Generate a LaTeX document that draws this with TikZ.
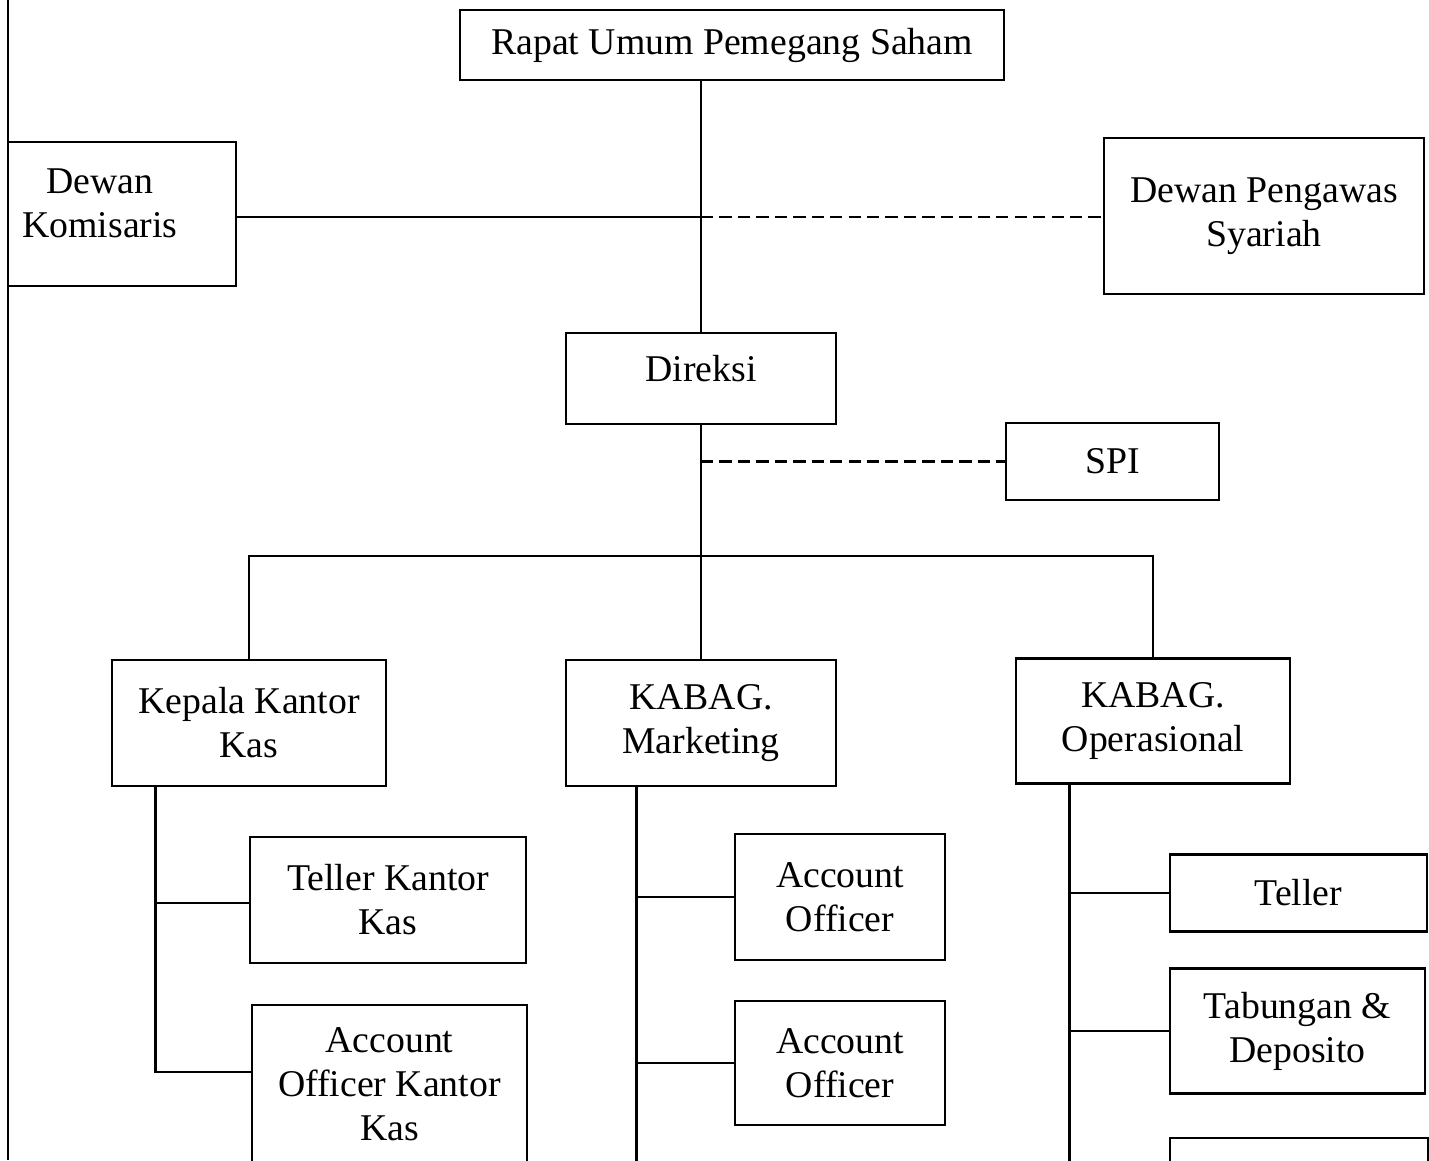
\documentclass[tikz,border=0pt]{standalone}
\usepackage{fontspec}
\setmainfont{Liberation Serif}
\begin{document}
\begin{tikzpicture}[x=0.02cm,y=-0.02cm,
	unit/.style={draw,line width=1.5pt,align=center,inner sep=0pt,
		font=\fontsize{21.5}{25}\selectfont},
	link/.style={line width=1.5pt},
	guide/.style={line width=1.5pt,dash pattern=on 7pt off 3.5pt}]
	\useasboundingbox (0,0) rectangle (1429,1160);
	\clip (0,0) rectangle (1429,1160);
	
	\node[unit,minimum width=10.88cm,minimum height=1.4cm] (rups) at 
	(732,45) {Rapat Umum Pemegang Saham};
	\node[unit,minimum width=4.56cm,minimum height=2.88cm,
	label={[shift={(-0.44cm,0.22cm)},align=center,
		font=\fontsize{21.5}{25}\selectfont]center:Dewan\\Komisaris}] 
	(komisaris) at (122,214) {};
	\node[unit,minimum width=6.4cm,minimum height=3.12cm] (dps) at 
	(1264,216) {Dewan Pengawas\\Syariah};
	\node[unit,minimum width=5.4cm,minimum height=1.82cm,
	label={[yshift=0.2cm,font=\fontsize{21.5}{25}\selectfont]center:Direksi}] 
	(direksi) at (701,378.5) {};
	\node[unit,minimum width=4.26cm,minimum height=1.54cm] (spi) at 
	(1112.5,461.5) {SPI};
	
	\node[unit,minimum width=5.48cm,minimum height=2.52cm] (kantorkas) at 
	(249,723) {Kepala Kantor\\Kas};
	\node[unit,minimum width=5.4cm,minimum height=2.52cm] (marketing) at 
	(701,723) {KABAG.\\Marketing};
	\node[unit,minimum width=5.48cm,minimum height=2.5cm] (operasional) at 
	(1153,721) {KABAG.\\Operasional};
	
	\node[unit,minimum width=5.52cm,minimum height=2.52cm] (tellerkk) at 
	(388,900) {Teller Kantor\\Kas};
	\node[unit,minimum width=5.5cm,minimum height=3.16cm] (aokk) at 
	(389.5,1084) {Account\\Officer Kantor\\Kas};
	\node[unit,minimum width=4.2cm,minimum height=2.52cm] (aoa) at 
	(840,897) {Account\\Officer};
	\node[unit,minimum width=4.2cm,minimum height=2.48cm] (aob) at 
	(840,1063) {Account\\Officer};
	\node[unit,minimum width=5.14cm,minimum height=1.54cm] (teller) at 
	(1298.5,893) {Teller};
	\node[unit,minimum width=5.1cm,minimum height=2.5cm] (tabungan) at 
	(1297.5,1031) {Tabungan \&\\Deposito};
	\node[unit,minimum width=5.16cm,minimum height=2.44cm] (lastbox) at 
	(1299,1199) {};
	
	% left edge of the page
	\draw[line width=1pt] (8,0) -- (8,1160);
	
	% top of the chart
	\draw[link] (rups.south -| direksi.north) -- (direksi.north);
	\coordinate (komj) at (direksi.north |- 0,217);
	\draw[link] (komisaris.east |- komj) -- (komj);
	\draw[guide] (komj) -- (komj -| dps.west);
	\draw[guide] (direksi.south |- spi.west) -- (spi.west);
	
	% bus to the heads
	\coordinate (bus) at (0,556);
	\draw[link] (direksi.south) -- (marketing.north);
	\draw[link] (kantorkas.north) -- (kantorkas.north |- bus) -- 
	(operasional.north |- bus) -- (operasional.north);
	
	% staff under each head
	\coordinate (kk) at ([xshift=0.9cm]kantorkas.south west);
	\draw[link] (kk) |- ([yshift=-0.06cm]tellerkk.west);
	\draw[link] (kk) |- ([yshift=0.24cm]aokk.west);
	
	\coordinate (mk) at ([xshift=1.44cm]marketing.south west);
	\draw[link] (mk) -- ++(0,450);
	\draw[link] (mk |- aoa.west) -- (aoa.west);
	\draw[link] (mk |- aob.west) -- (aob.west);
	
	\coordinate (op) at ([xshift=1.1cm]operasional.south west);
	\draw[link] (op) -- ++(0,450);
	\draw[link] (op |- teller.west) -- (teller.west);
	\draw[link] (op |- tabungan.west) -- (tabungan.west);
\end{tikzpicture}
\end{document}
